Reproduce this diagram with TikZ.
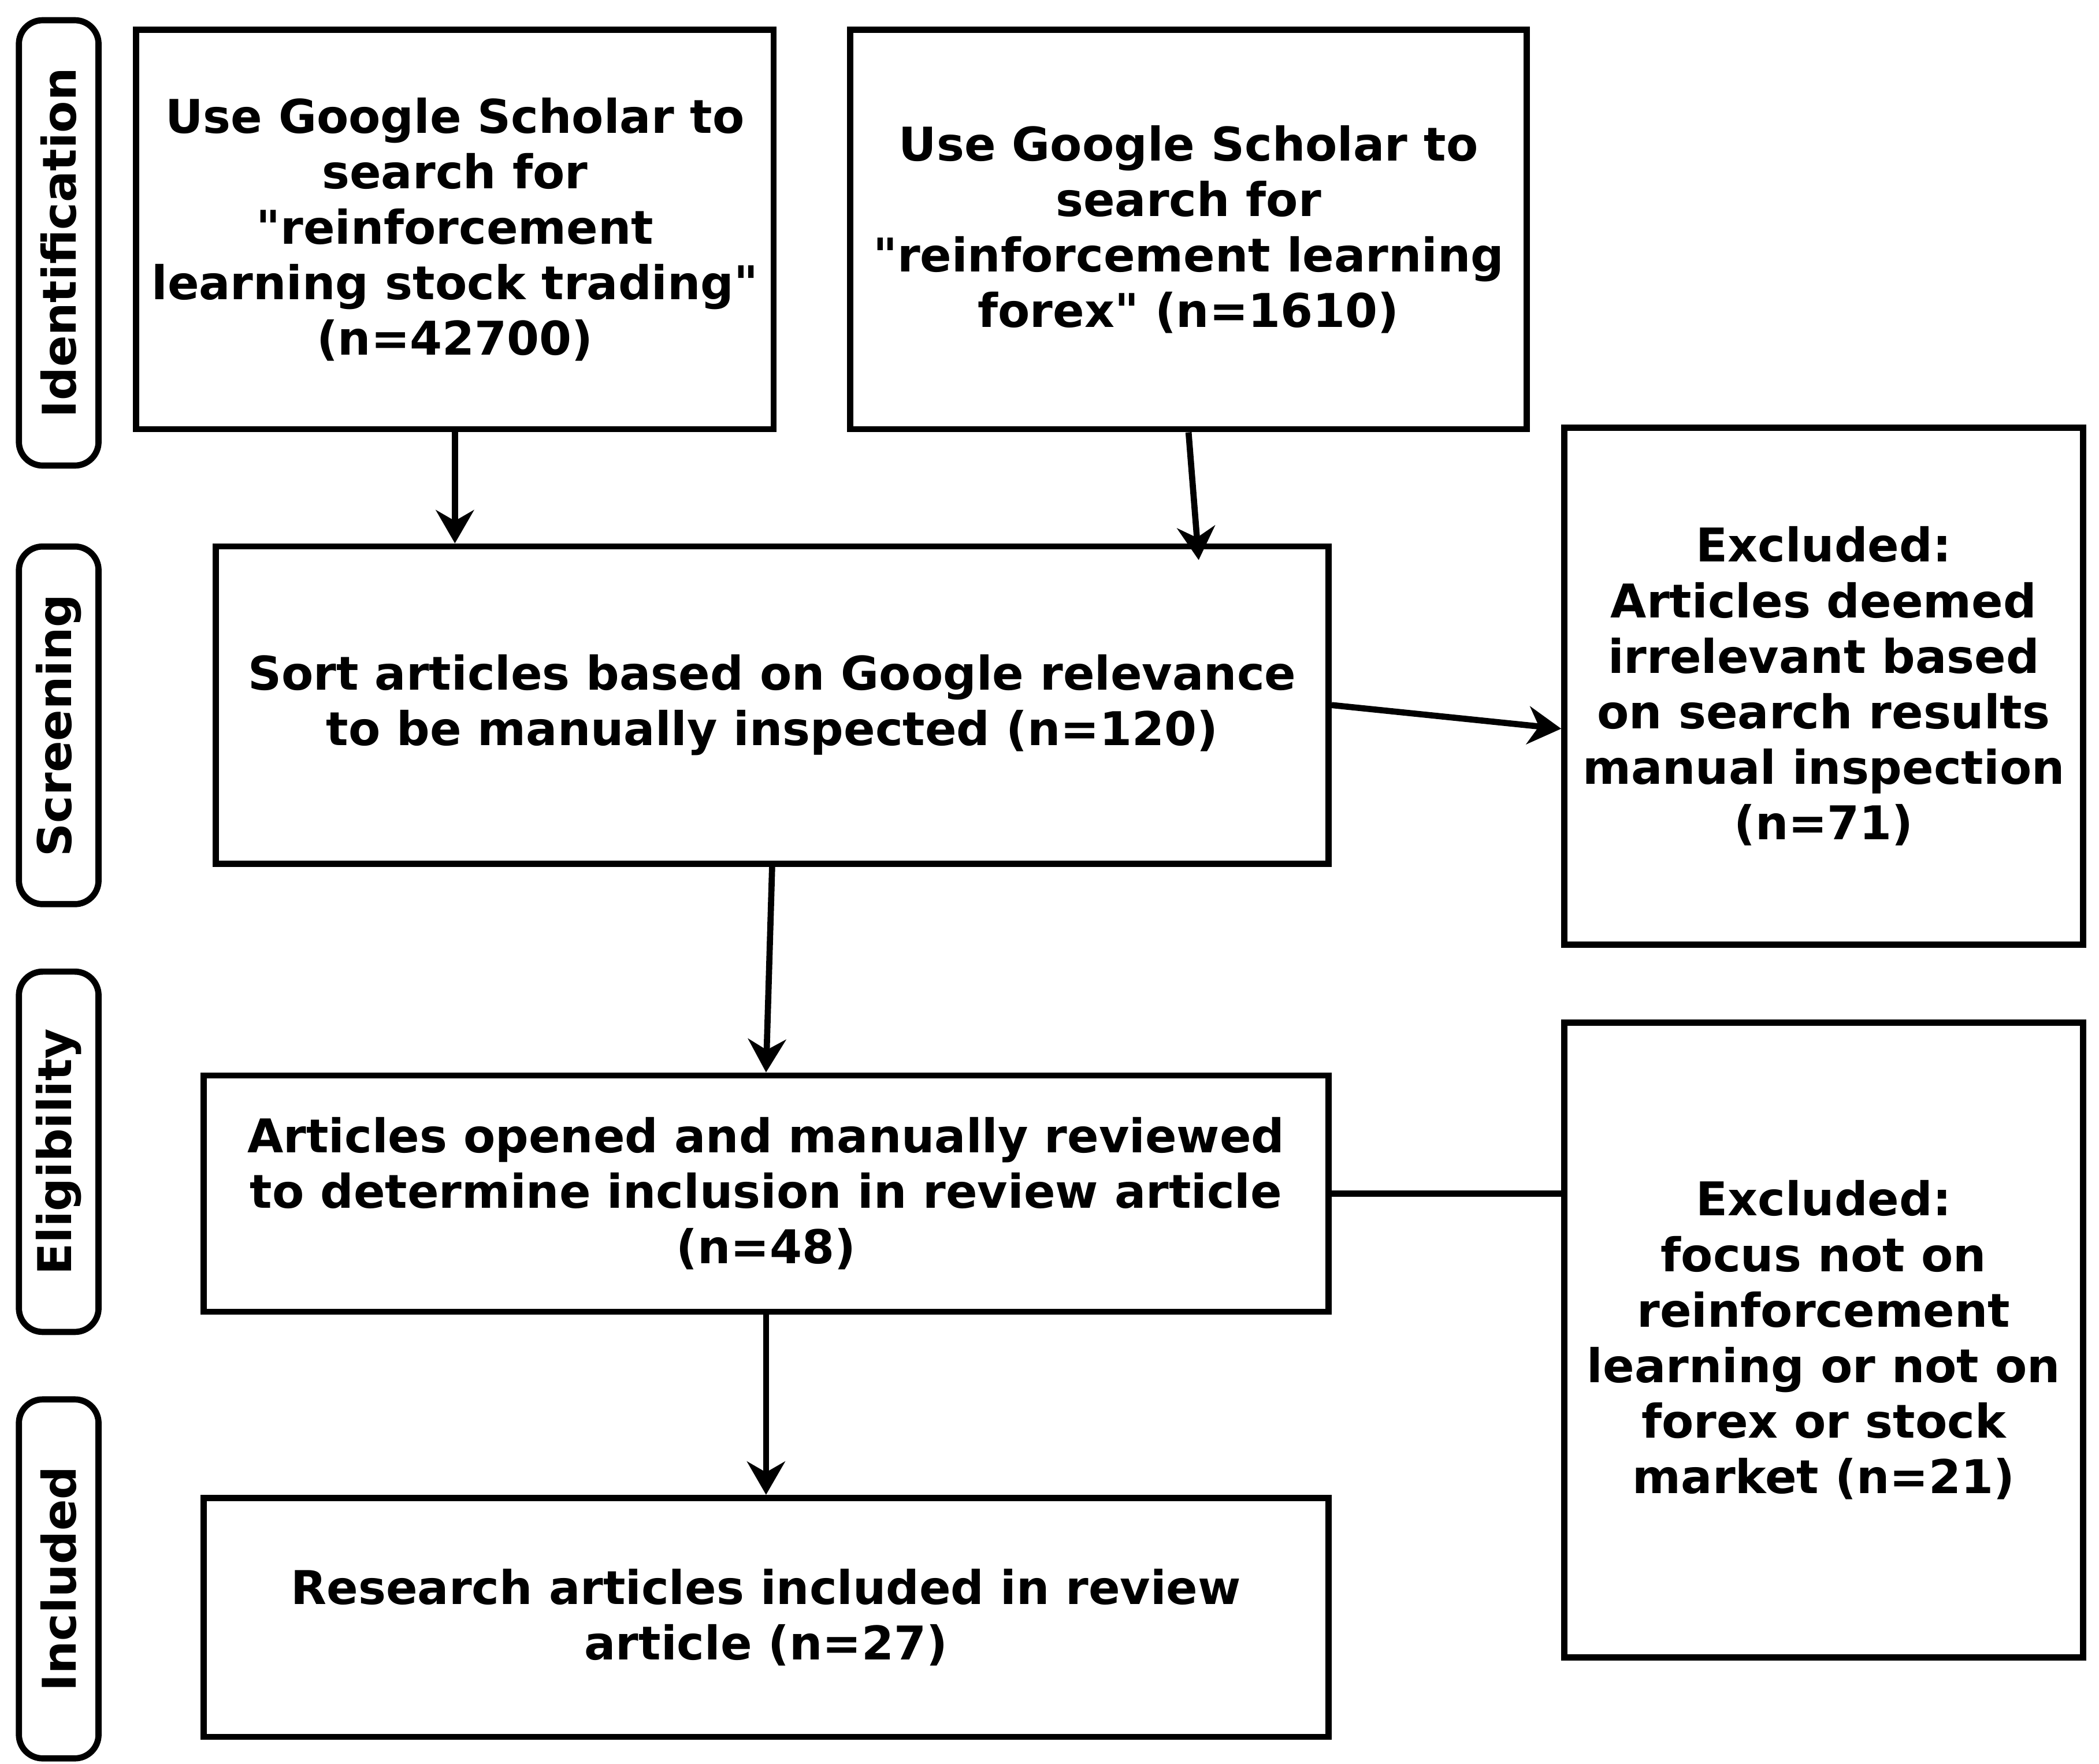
\documentclass[tikz,border=0pt]{standalone}
\usepackage{fontspec}
\usetikzlibrary{arrows.meta}
\setmainfont{DejaVu Sans}
\begin{document}
\begin{tikzpicture}[x=0.01cm,y=-0.01cm,
  box/.style={draw,line width=1.3pt,inner sep=0pt,font=\bfseries\fontsize{9.8}{11.7}\selectfont,align=center},
  arr/.style={line width=1.3pt,-{Stealth[length=7pt,width=8pt]}}]
\useasboundingbox (0,0) rectangle (1555,1307);
\foreach \n/\t/\a/\b in {s1/Identification/15/345,s2/Screening/405/670,s3/Eligibility/720/987,s4/Included/1037/1303}{
  \draw[line width=1.3pt,rounded corners=5pt] (14,\a) rectangle (73,\b);
  \node[rotate=90,font=\bfseries\fontsize{9.8}{11.7}\selectfont] (\n) at (43.5,{(\a+\b)/2}) {\t};
}
\node[box,minimum width=4.72cm,minimum height=2.96cm] (b1) at (337,170) {Use Google Scholar to\\search for\\\textquotedbl reinforcement\\learning stock trading\textquotedbl\\(n=42700)};
\node[box,minimum width=5.01cm,minimum height=2.96cm] (b2) at (880.5,170) {Use Google Scholar to\\search for\\\textquotedbl reinforcement learning\\forex\textquotedbl{} (n=1610)};
\node[box,minimum width=8.24cm,minimum height=2.35cm] (sc) at (572,522.5) {Sort articles based on Google relevance\\to be manually inspected (n=120)};
\node[box,minimum width=3.84cm,minimum height=3.83cm] (e1) at (1351,508.5) {Excluded:\\Articles deemed\\irrelevant based\\on search results\\manual inspection\\(n=71)};
\node[box,minimum width=8.33cm,minimum height=1.75cm] (el) at (567.5,884.5) {Articles opened and manually reviewed\\to determine inclusion in review article\\(n=48)};
\node[box,minimum width=3.84cm,minimum height=4.70cm] (e2) at (1351,993) {Excluded:\\focus not on\\reinforcement\\learning or not on\\forex or stock\\market (n=21)};
\node[box,minimum width=8.33cm,minimum height=1.77cm] (in) at (567.5,1198.5) {Research articles included in review\\article (n=27)};
\draw[arr] (b1.south) -- (b1.south |- sc.north);
\draw[arr] (b2.south) -- (888,415);
\draw[arr] (sc.east) -- (e1.west |- 0,540);
\draw[arr] (sc.south) -- (el.north);
\draw[line width=1.3pt] (el.east) -- (e2.west |- el.east);
\draw[arr] (el.south) -- (in.north);
\end{tikzpicture}
\end{document}
